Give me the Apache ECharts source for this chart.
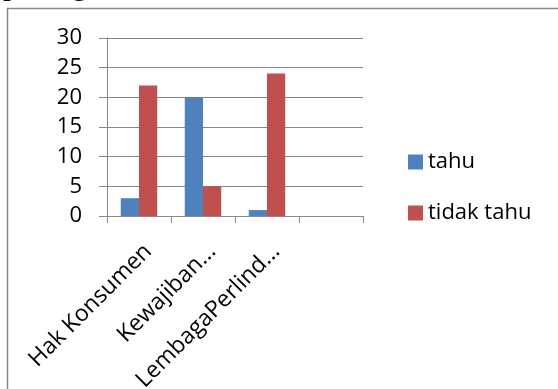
<!DOCTYPE html>
<html>
<head>
<meta charset="utf-8">
<script src="https://cdn.jsdelivr.net/npm/echarts@6/dist/echarts.min.js"></script>
<style>
html,body{margin:0;padding:0;background:#fff;}
#c{width:558px;height:389px;}
</style>
</head>
<body>
<div id="c"></div>
<script>
var categories = ['Hak Konsumen', 'Kewajiban...', 'LembagaPerlind...', ''];
var tahu = [3, 20, 1, null];
var tidakTahu = [22, 5, 24, null];
var seriesNames = ['tahu', 'tidak tahu'];
var yTicks = { min: 0, max: 30, interval: 5 };
var headerText = 'pada grafik dibawah ini:';

var chart = echarts.init(document.getElementById('c'), null, { renderer: 'canvas' });
var axisGray = '#868686';
var font = 'Open Sans';
chart.setOption({
  animation: false,
  backgroundColor: '#ffffff',
  textStyle: { fontFamily: font },
  graphic: [
    { type: 'text', left: 3, top: -30, style: { text: headerText, font: '32px "Liberation Serif"', fill: '#000' } },
    { type: 'line', shape: { x1: 7, y1: 8.5, x2: 558, y2: 8.5 }, style: { stroke: '#8a8a8a', lineWidth: 1.5 } },
    { type: 'line', shape: { x1: 7.5, y1: 8, x2: 7.5, y2: 389 }, style: { stroke: '#8a8a8a', lineWidth: 1.5 } }
  ],
  grid: { left: 107, top: 38, right: 195, bottom: 173, containLabel: false, outerBoundsMode: 'none' },
  legend: {
    orient: 'vertical',
    left: 403,
    top: 146,
    itemWidth: 15,
    itemHeight: 15,
    itemGap: 29,
    icon: 'rect',
    textStyle: { fontFamily: font, fontSize: 22, color: '#000', lineHeight: 22 },
    data: seriesNames
  },
  xAxis: {
    type: 'category',
    data: categories,
    axisLine: { show: true, lineStyle: { color: axisGray, width: 1 } },
    axisTick: { show: true, length: 7, alignWithLabel: false, lineStyle: { color: axisGray } },
    axisLabel: {
      interval: 0, rotate: 45, margin: 41, fontSize: 23, fontFamily: font, color: '#000',
      padding: [0, -13, 0, 0]
    },
    splitLine: { show: false }
  },
  yAxis: {
    type: 'value',
    min: yTicks.min, max: yTicks.max, interval: yTicks.interval,
    axisLine: { show: true, lineStyle: { color: axisGray, width: 1 } },
    axisTick: { show: true, length: 8, lineStyle: { color: axisGray } },
    axisLabel: { margin: 25, fontSize: 22, fontFamily: font, color: '#000' },
    splitLine: { show: true, lineStyle: { color: axisGray, width: 1 } }
  },
  series: [
    { name: seriesNames[0], type: 'bar', data: tahu, itemStyle: { color: '#4F81BD' }, barGap: '0%', barCategoryGap: '43%' },
    { name: seriesNames[1], type: 'bar', data: tidakTahu, itemStyle: { color: '#C0504D' }, barGap: '0%', barCategoryGap: '43%' }
  ]
});
</script>
</body>
</html>
